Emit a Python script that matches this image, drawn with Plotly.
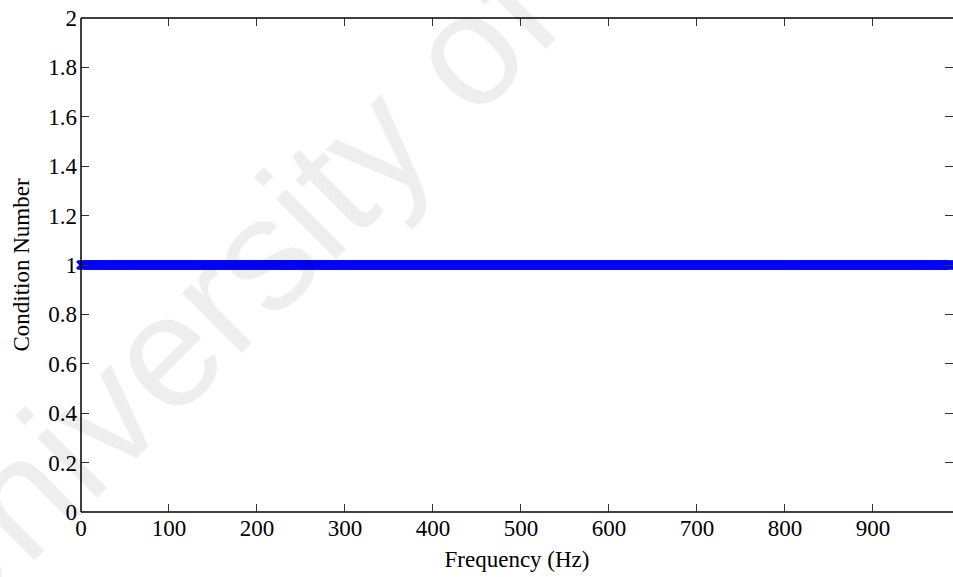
import plotly.graph_objects as go

# Frequency grid (Hz) and the condition number evaluated at each frequency
frequency_hz = list(range(0, 991))
condition_number = [1.0] * len(frequency_hz)

x_ticks = [0, 100, 200, 300, 400, 500, 600, 700, 800, 900]
y_ticks = [0, 0.2, 0.4, 0.6, 0.8, 1, 1.2, 1.4, 1.6, 1.8, 2]

W, H = 953, 577
L, R, T, B = 81, 0, 18, 65

fig = go.Figure()
fig.add_trace(go.Scatter(
    x=frequency_hz,
    y=condition_number,
    mode="markers",
    marker=dict(symbol="x-thin", size=8, color="#0000ff",
                line=dict(color="#0000ff", width=2.5)),
    cliponaxis=False,
    showlegend=False,
    hoverinfo="skip",
))

axis_font = dict(family="Liberation Serif, Times New Roman, serif", size=23, color="black")

common = dict(
    showgrid=False, zeroline=False,
    showline=False, mirror="ticks",
    ticks="inside", ticklen=8, tickwidth=1, tickcolor="#333333",
    tickfont=axis_font,
)

fig.update_xaxes(
    range=[0, 991], tickvals=x_ticks,
    title=dict(text="Frequency (Hz)", font=axis_font, standoff=10),
    **common,
)
fig.update_yaxes(
    range=[0, 2], tickvals=y_ticks, ticklabelstandoff=3,
    title=dict(text="Condition Number", font=axis_font, standoff=12),
    **common,
)

# Box edges: left, bottom and top (the right edge falls outside the canvas)
for x0, y0, x1, y1 in [(0, 0, 0, 1), (0, 0, 1, 0), (0, 1, 1, 1)]:
    fig.add_shape(type="line", xref="paper", yref="paper",
                  x0=x0, y0=y0, x1=x1, y1=y1,
                  line=dict(color="black", width=1.5), layer="above")

# Diagonal repository watermark
fig.add_annotation(
    text="University of Malaya",
    xref="paper", yref="paper", x=0.383, y=0.83,
    xanchor="center", yanchor="middle",
    textangle=-45, showarrow=False,
    font=dict(family="Liberation Sans, Arial, sans-serif", size=160,
              color="rgba(0,0,0,0.068)"),
)

fig.update_layout(
    width=W, height=H,
    margin=dict(l=L, r=R, t=T, b=B),
    paper_bgcolor="white", plot_bgcolor="white",
)

fig.write_html("out.html")
